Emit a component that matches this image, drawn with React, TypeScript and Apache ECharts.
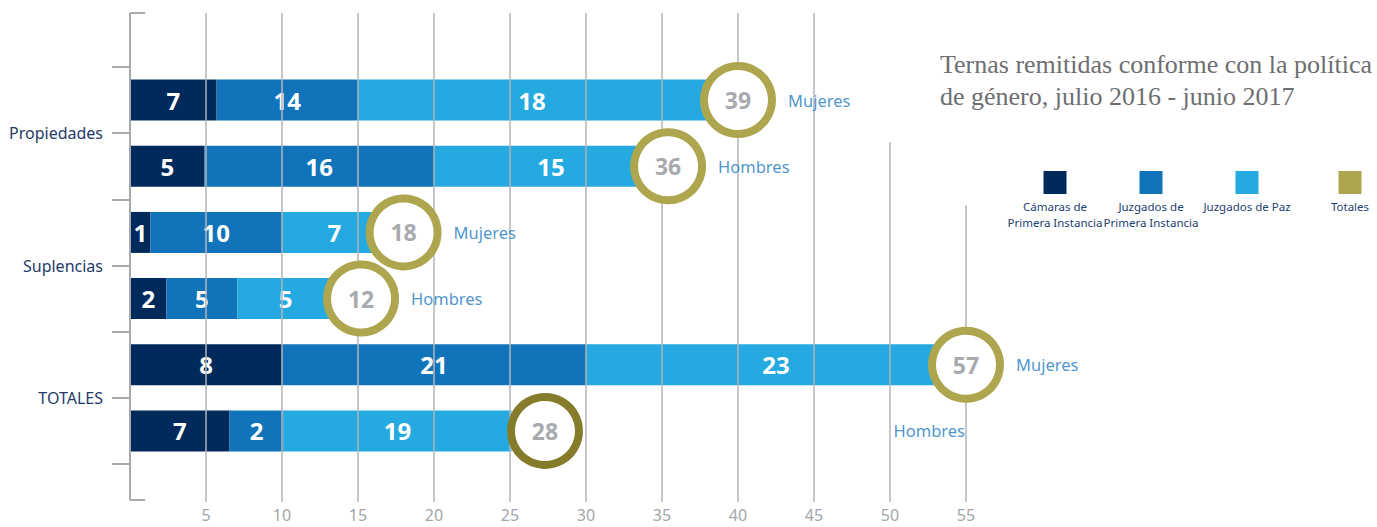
import React, { useEffect, useRef } from "react";
import * as echarts from "echarts";

// ---- data ----
const groups = ["Propiedades", "Suplencias", "TOTALES"];
const rowNames = [
  "Propiedades Mujeres",
  "Propiedades Hombres",
  "Suplencias Mujeres",
  "Suplencias Hombres",
  "TOTALES Mujeres",
  "TOTALES Hombres",
];
const genders = ["Mujeres", "Hombres", "Mujeres", "Hombres", "Mujeres", "Hombres"];
const seriesNames = ["Cámaras de\nPrimera Instancia", "Juzgados de\nPrimera Instancia", "Juzgados de Paz", "Totales"];

// printed values
const camaras = [7, 5, 1, 2, 8, 7];
const juzgadosPI = [14, 16, 10, 5, 21, 2];
const juzgadosPaz = [18, 15, 7, 5, 23, 19];
const totales = [39, 36, 18, 12, 57, 28];

// drawn lengths of the segments, read against the axis (the picture is not to scale)
const camarasLen = [5.7, 4.9, 1.35, 2.4, 10, 6.55];
const juzgadosPILen = [9.3, 15.1, 8.65, 4.67, 20, 3.55];
const juzgadosPazLen = [22.9, 15.4, 6.9, 6.33, 25, 15.0];
const totalesAt = [40, 35.4, 18, 15.2, 55, 27.3];

const xTicks = [5, 10, 15, 20, 25, 30, 35, 40, 45, 50, 55];
// how far up (percent of plot height) each vertical guide rises
const guideTop = [100, 100, 100, 100, 100, 100, 100, 100, 100, 73.6, 60.7];

const colors = ["#002a5c", "#1174bb", "#24a9e0", "#aea64e"];
const darkRing = "#847c2b";

export default function App() {
  const ref = useRef<HTMLDivElement>(null);
  useEffect(() => {
    if (!ref.current) return;
    const chart = echarts.init(ref.current, null, { renderer: "svg" });
    const sans = "'Noto Sans', 'DejaVu Sans', sans-serif";
    const gray = "#b3b5b8";

    const segLabel = (vals: number[]) => ({
      show: true,
      position: "inside",
      color: "#ffffff",
      fontSize: 24,
      fontWeight: "bold",
      fontFamily: sans,
      formatter: (p: any) => String(vals[p.dataIndex]),
    });

    const guides: any[] = xTicks.map((t, i) => [
      { coord: [t, guideTop[i]] },
      { coord: [t, 0] },
    ]);
    const frame: any[] = [
      [{ coord: [0, 100] }, { coord: [0, 0.4] }],
      [{ coord: [0, 100] }, { coord: [1, 100] }],
      [{ coord: [0, 0.4] }, { coord: [1, 0.4] }],
    ];

    const legendGraphics: any[] = [];
    const legendX = [1055, 1151, 1247, 1350];
    seriesNames.forEach((n, i) => {
      legendGraphics.push({
        type: "rect",
        shape: { x: legendX[i] - 11.5, y: 171, width: 23, height: 23 },
        style: { fill: colors[i] },
      });
      legendGraphics.push({
        type: "text",
        x: legendX[i],
        y: 198,
        style: {
          text: n,
          fill: "#23406f",
          fontSize: 11.5,
          lineHeight: 16,
          fontFamily: sans,
          align: "center",
          verticalAlign: "top",
        },
      });
    });

    chart.setOption({
      animation: false,
      backgroundColor: "#ffffff",
      title: {
        text: "Ternas remitidas conforme con la política\nde género, julio 2016 - junio 2017",
        left: 935,
        top: 43,
        textStyle: {
          color: "#6d6e71",
          fontSize: 26,
          fontWeight: "normal",
          lineHeight: 32,
          fontFamily: "'Liberation Serif', 'DejaVu Serif', serif",
        },
      },
      graphic: legendGraphics,
      grid: [
        { left: 130, right: 335, top: 67, bottom: 63 },
        { left: 130, right: 335, top: 13, bottom: 25 },
      ],
      xAxis: [
        {
          gridIndex: 0,
          type: "value",
          min: 0,
          max: 60,
          interval: 5,
          show: false,
        },
        {
          gridIndex: 1,
          type: "value",
          min: 0,
          max: 60,
          interval: 5,
          axisLine: { show: false },
          axisTick: { show: false },
          splitLine: { show: false },
          axisLabel: {
            color: "#a3a6aa",
            fontSize: 16,
            fontFamily: sans,
            margin: 5,
            formatter: (v: number) => (v === 0 || v === 60 ? "" : String(v)),
          },
        },
      ],
      yAxis: [
        {
          gridIndex: 0,
          type: "category",
          data: rowNames,
          inverse: true,
          axisLine: { show: false },
          axisTick: { show: true, length: 18, lineStyle: { color: "#a7a9ac", width: 2 } },
          axisLabel: { show: false },
          splitLine: { show: false },
        },
        {
          gridIndex: 0,
          type: "category",
          data: groups,
          inverse: true,
          position: "left",
          offset: 0,
          axisLine: { show: false },
          axisTick: { show: false },
          splitLine: { show: false },
          axisLabel: {
            color: "#1f3a68",
            fontSize: 16,
            fontFamily: sans,
            margin: 27,
          },
        },
        {
          gridIndex: 1,
          type: "value",
          min: 0,
          max: 100,
          show: false,
        },
      ],
      series: [
        {
          type: "line",
          xAxisIndex: 1,
          yAxisIndex: 2,
          data: [[0, 0]],
          showSymbol: false,
          symbol: "none",
          lineStyle: { opacity: 0 },
          silent: true,
          z: 1,
          markLine: {
            silent: true,
            symbol: "none",
            label: { show: false },
            lineStyle: { color: gray, width: 1.5, type: "solid" },
            data: guides,
          },
        },
        {
          type: "line",
          xAxisIndex: 1,
          yAxisIndex: 2,
          data: [[0, 0]],
          showSymbol: false,
          symbol: "none",
          lineStyle: { opacity: 0 },
          silent: true,
          z: 1,
          markLine: {
            silent: true,
            symbol: "none",
            label: { show: false },
            lineStyle: { color: "#a7a9ac", width: 2, type: "solid" },
            data: frame,
          },
        },
        {
          name: seriesNames[0],
          type: "bar",
          stack: "s",
          barWidth: 41,
          xAxisIndex: 0,
          yAxisIndex: 0,
          z: 3,
          itemStyle: { color: colors[0] },
          label: segLabel(camaras),
          data: camarasLen,
        },
        {
          name: seriesNames[1],
          type: "bar",
          stack: "s",
          barWidth: 41,
          xAxisIndex: 0,
          yAxisIndex: 0,
          z: 3,
          itemStyle: { color: colors[1] },
          label: segLabel(juzgadosPI),
          data: juzgadosPILen,
        },
        {
          name: seriesNames[2],
          type: "bar",
          stack: "s",
          barWidth: 41,
          xAxisIndex: 0,
          yAxisIndex: 0,
          z: 3,
          itemStyle: { color: colors[2] },
          label: segLabel(juzgadosPaz),
          data: juzgadosPazLen,
        },
        {
          name: seriesNames[3],
          type: "scatter",
          xAxisIndex: 0,
          yAxisIndex: 0,
          z: 5,
          symbol: "circle",
          symbolSize: 68,
          itemStyle: { color: "#ffffff", borderColor: colors[3], borderWidth: 8, opacity: 1 },
          label: {
            show: true,
            position: "inside",
            color: "#a8aaad",
            fontSize: 23,
            fontWeight: "bold",
            fontFamily: sans,
            formatter: (p: any) => String(totales[p.dataIndex]),
          },
          data: totalesAt.map((x, i) =>
            i === 5
              ? { value: [x, i], itemStyle: { borderColor: darkRing } }
              : { value: [x, i] }
          ),
        },
        {
          name: "genero",
          type: "scatter",
          xAxisIndex: 0,
          yAxisIndex: 0,
          z: 6,
          symbolSize: 0,
          silent: true,
          label: {
            show: true,
            position: "right",
            distance: 50,
            color: "#1b78c0",
            fontSize: 16.5,
            fontFamily: sans,
            formatter: (p: any) => genders[p.dataIndex],
          },
          data: totalesAt.map((x, i) =>
            i === 5
              ? { value: [55, i], label: { position: "left", distance: 1 } }
              : { value: [x, i] }
          ),
        },
      ],
    });
    return () => chart.dispose();
  }, []);
  return (
    <div
      ref={ref}
      style={{ position: "fixed", left: 0, top: 0, width: 1377, height: 527, background: "#fff" }}
    />
  );
}
